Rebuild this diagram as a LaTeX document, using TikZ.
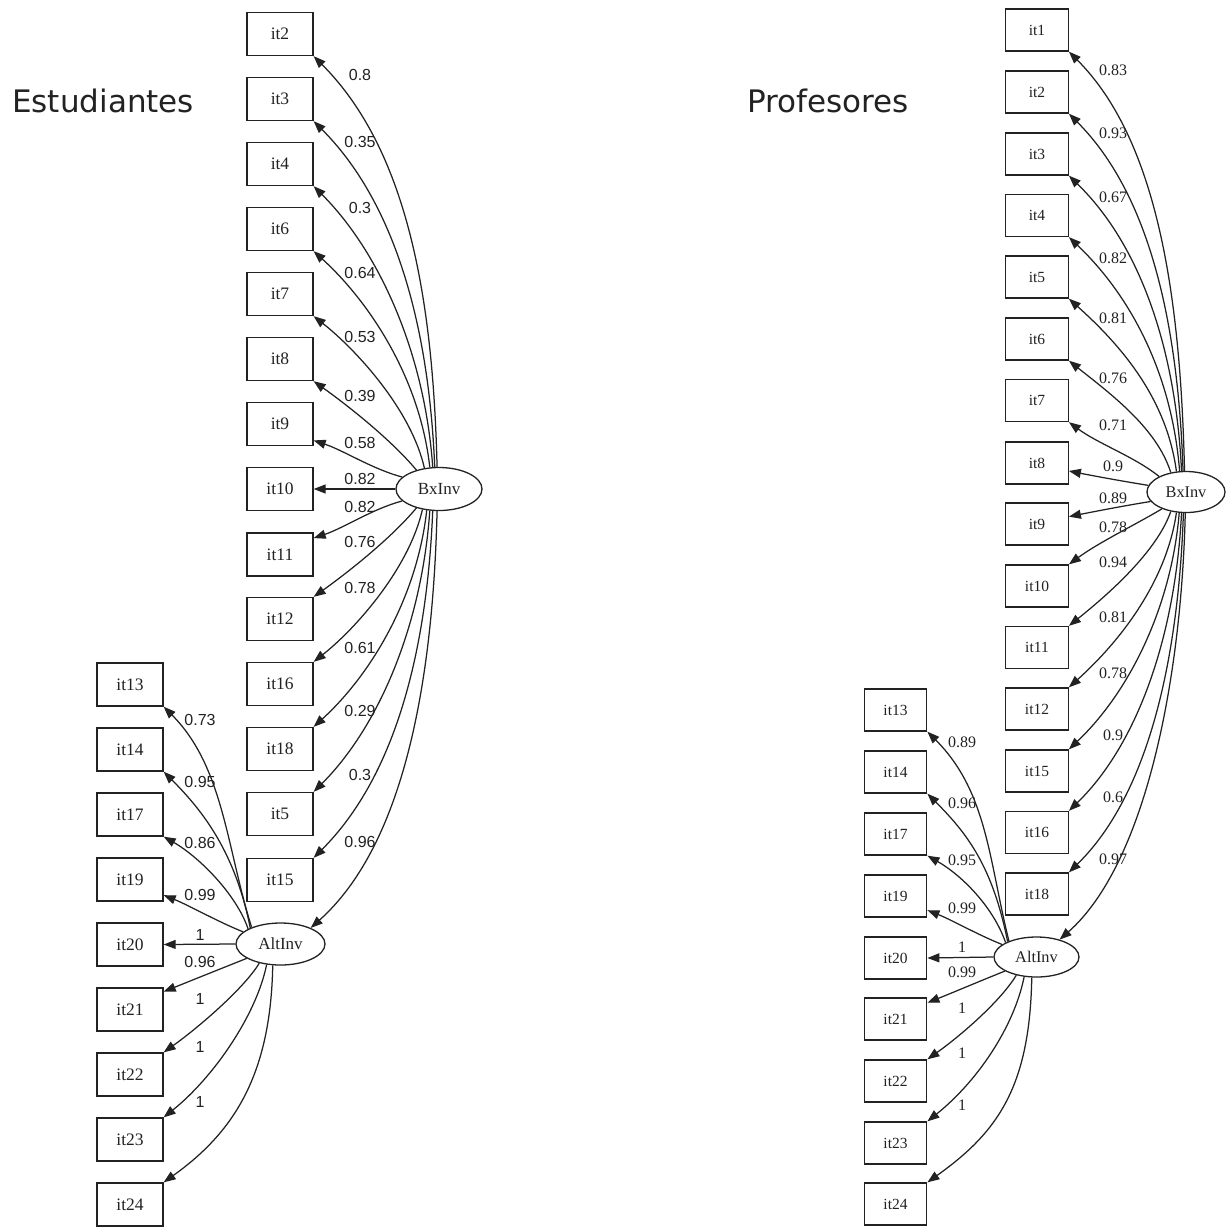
\documentclass[tikz,border=0pt]{standalone}
\usepackage{fontspec}
\setmainfont{Liberation Serif}
\newfontfamily\labsans{Liberation Sans}
\newfontfamily\titlefont{DejaVu Sans}
\usetikzlibrary{arrows.meta,shapes.geometric}
\definecolor{ink}{HTML}{222222}
\begin{document}
\begin{tikzpicture}[x=1pt,y=-1pt,
  boxL/.style={draw=ink, line width=1.3pt, rectangle, minimum width=66pt, minimum height=43pt, inner sep=0pt, text=ink, font=\fontsize{17.5}{20}\selectfont},
  boxR/.style={draw=ink, line width=1.3pt, rectangle, minimum width=62.5pt, minimum height=42pt, inner sep=0pt, text=ink, font=\fontsize{15.5}{18}\selectfont},
  latL/.style={draw=ink, line width=1.3pt, ellipse, inner sep=0pt, text=ink, font=\fontsize{17}{20}\selectfont},
  latR/.style={draw=ink, line width=1.3pt, ellipse, inner sep=0pt, text=ink, font=\fontsize{16.3}{19}\selectfont},
  arr/.style={draw=ink, line width=1.25pt, -{Triangle[length=12pt,width=9pt]}},
  lblL/.style={inner sep=0pt, text=ink, font=\labsans\fontsize{16}{18}\selectfont},
  lblR/.style={inner sep=0pt, text=ink, font=\fontsize{16}{18}\selectfont},
  ttl/.style={inner sep=0pt, anchor=base west, text=ink, font=\titlefont\fontsize{31}{36}\selectfont}]
\useasboundingbox (0,0) rectangle (1227,1227);

% titles
\node[ttl] (tS) at (12,112) {Estudiantes};
\node[ttl] (tP) at (747,112) {Profesores};

% ---------------- Estudiantes ----------------
\foreach \n/\y in {2/34,3/99,4/164,6/229,7/294,8/359,9/424,10/489,11/554.5,12/619,16/684,18/749,5/814,15/880}
  \node[boxL] (s\n) at (280,\y) {it\n};
\foreach \n/\y in {13/684.5,14/749.5,17/814.5,19/879.5,20/944.5,21/1009.5,22/1074.5,23/1139.5,24/1204.5}
  \node[boxL] (s\n) at (130,\y) {it\n};
\node[latL, minimum width=86pt, minimum height=43pt] (sBx) at (439,489) {BxInv};
\node[latL, minimum width=89pt, minimum height=42pt] (sAlt) at (280.5,944) {AltInv};

% BxInv edges
\draw[arr] (sBx.162) .. controls +(-30,-8) and +(30,10) .. (s9.334);
\draw[arr] (sBx.140) .. controls +(-25,-30) and +(35,25) .. (s8.south east);
\draw[arr] (sBx.125) .. controls +(-13,-58) and +(43,34) .. (s7.south east);
\draw[arr] (sBx.113) .. controls +(-10,-90) and +(55,50) .. (s6.south east);
\draw[arr] (sBx.106) .. controls +(-8,-115) and +(65,65) .. (s4.south east);
\draw[arr] (sBx.101) .. controls +(-6,-145) and +(80,80) .. (s3.south east);
\draw[arr] (sBx.95) .. controls +(-4,-165) and +(95,95) .. (s2.south east);
\draw[arr] (sBx.west) -- (s10.east);
\draw[arr] (sBx.198) .. controls +(-30,8) and +(30,-10) .. (s11.26);
\draw[arr] (sBx.220) .. controls +(-25,30) and +(35,-25) .. (s12.north east);
\draw[arr] (sBx.231) .. controls +(-13,58) and +(43,-34) .. (s16.north east);
\draw[arr] (sBx.240) .. controls +(-10,90) and +(55,-50) .. (s18.north east);
\draw[arr] (sBx.247) .. controls +(-8,115) and +(65,-65) .. (s5.north east);
\draw[arr] (sBx.254) .. controls +(-6,145) and +(80,-80) .. (s15.north east);
\draw[arr] (sBx.265) .. controls +(-4,165) and +(95,-85) .. (sAlt.28);

% AltInv edges
\draw[arr] (sAlt.162) .. controls +(-25,-10) and +(25,10) .. (s19.335);
\draw[arr] (sAlt.155) .. controls +(-12,-35) and +(35,20) .. (s17.south east);
\draw[arr] (sAlt.152) .. controls +(-15,-75) and +(40,40) .. (s14.south east);
\draw[arr] (sAlt.150) .. controls +(-25,-79) and +(60,60) .. (s13.south east);
\draw[arr] (sAlt.west) -- (s20.east);
\draw[arr] (sAlt.203) .. controls +(-25,10) and +(25,-10) .. (s21.28);
\draw[arr] (sAlt.222) .. controls +(-15,25) and +(35,-25) .. (s22.north east);
\draw[arr] (sAlt.236) .. controls +(-10,50) and +(50,-40) .. (s23.north east);
\draw[arr] (sAlt.250) .. controls +(-2,110) and +(70,-50) .. (s24.north east);

% labels
\foreach \t/\y [count=\i] in {0.8/75,0.35/142,0.3/208,0.64/273,0.53/337,0.39/396,0.58/443,0.82/479,0.82/507,0.76/542,0.78/588,0.61/648,0.29/711,0.3/775,0.96/842}
  \node[lblL] (sla\i) at (360,\y) {\t};
\foreach \t/\y [count=\i] in {0.73/720,0.95/782,0.86/843,0.99/895,1/935,0.96/962,1/999,1/1047,1/1102}
  \node[lblL] (slb\i) at (200,\y) {\t};

% ---------------- Profesores ----------------
\foreach \n/\y in {1/30,2/92,3/154,4/215.5,5/277,6/339,7/400.5,8/463,9/524,10/586,11/647.5,12/709,15/771,16/832.5,18/894}
  \node[boxR] (p\n) at (1037,\y) {it\n};
\foreach \n/\y in {13/710,14/772,17/834,19/896,20/958,21/1019,22/1081,23/1143,24/1204}
  \node[boxR] (p\n) at (895.5,\y) {it\n};
\node[latR, minimum width=78pt, minimum height=41pt] (pBx) at (1186,492) {BxInv};
\node[latR, minimum width=85pt, minimum height=40pt] (pAlt) at (1036.5,957) {AltInv};

\draw[arr] (pBx.170) .. controls +(-25,-4) and +(25,5) .. (p8.346);
\draw[arr] (pBx.150) .. controls +(-25,-20) and +(30,22) .. (p7.south east);
\draw[arr] (pBx.128) .. controls +(-14,-45) and +(40,32) .. (p6.south east);
\draw[arr] (pBx.115) .. controls +(-10,-75) and +(50,45) .. (p5.south east);
\draw[arr] (pBx.107) .. controls +(-8,-100) and +(60,57) .. (p4.south east);
\draw[arr] (pBx.102) .. controls +(-6,-125) and +(70,68) .. (p3.south east);
\draw[arr] (pBx.98) .. controls +(-5,-150) and +(80,80) .. (p2.south east);
\draw[arr] (pBx.94) .. controls +(-4,-170) and +(90,90) .. (p1.south east);
\draw[arr] (pBx.195) .. controls +(-25,4) and +(25,-5) .. (p9.13);
\draw[arr] (pBx.215) .. controls +(-25,15) and +(30,-22) .. (p10.north east);
\draw[arr] (pBx.232) .. controls +(-14,40) and +(40,-32) .. (p11.north east);
\draw[arr] (pBx.245) .. controls +(-10,70) and +(50,-45) .. (p12.north east);
\draw[arr] (pBx.252) .. controls +(-8,95) and +(60,-57) .. (p15.north east);
\draw[arr] (pBx.258) .. controls +(-6,120) and +(70,-68) .. (p16.north east);
\draw[arr] (pBx.263) .. controls +(-5,145) and +(80,-78) .. (p18.north east);
\draw[arr] (pBx.268) .. controls +(-4,170) and +(85,-75) .. (pAlt.37);

\draw[arr] (pAlt.160) .. controls +(-25,-10) and +(25,10) .. (p19.336);
\draw[arr] (pAlt.155) .. controls +(-12,-35) and +(35,20) .. (p17.south east);
\draw[arr] (pAlt.152) .. controls +(-15,-75) and +(40,40) .. (p14.south east);
\draw[arr] (pAlt.150) .. controls +(-20,-80) and +(60,60) .. (p13.south east);
\draw[arr] (pAlt.west) -- (p20.east);
\draw[arr] (pAlt.204) .. controls +(-25,10) and +(25,-10) .. (p21.27);
\draw[arr] (pAlt.222) .. controls +(-15,25) and +(35,-25) .. (p22.north east);
\draw[arr] (pAlt.238) .. controls +(-10,50) and +(50,-40) .. (p23.north east);
\draw[arr] (pAlt.257) .. controls +(-2,110) and +(70,-50) .. (p24.north east);

\foreach \t/\y [count=\i] in {0.83/70,0.93/133,0.67/197,0.82/258,0.81/318,0.76/378,0.71/425,0.9/466,0.89/498,0.78/527,0.94/562,0.81/617,0.78/673,0.9/735,0.6/797,0.97/859}
  \node[lblR] (pla\i) at (1113,\y) {\t};
\foreach \t/\y [count=\i] in {0.89/742,0.96/803,0.95/860,0.99/908,1/947,0.99/972,1/1008,1/1053,1/1105}
  \node[lblR] (plb\i) at (962,\y) {\t};
\end{tikzpicture}
\end{document}
